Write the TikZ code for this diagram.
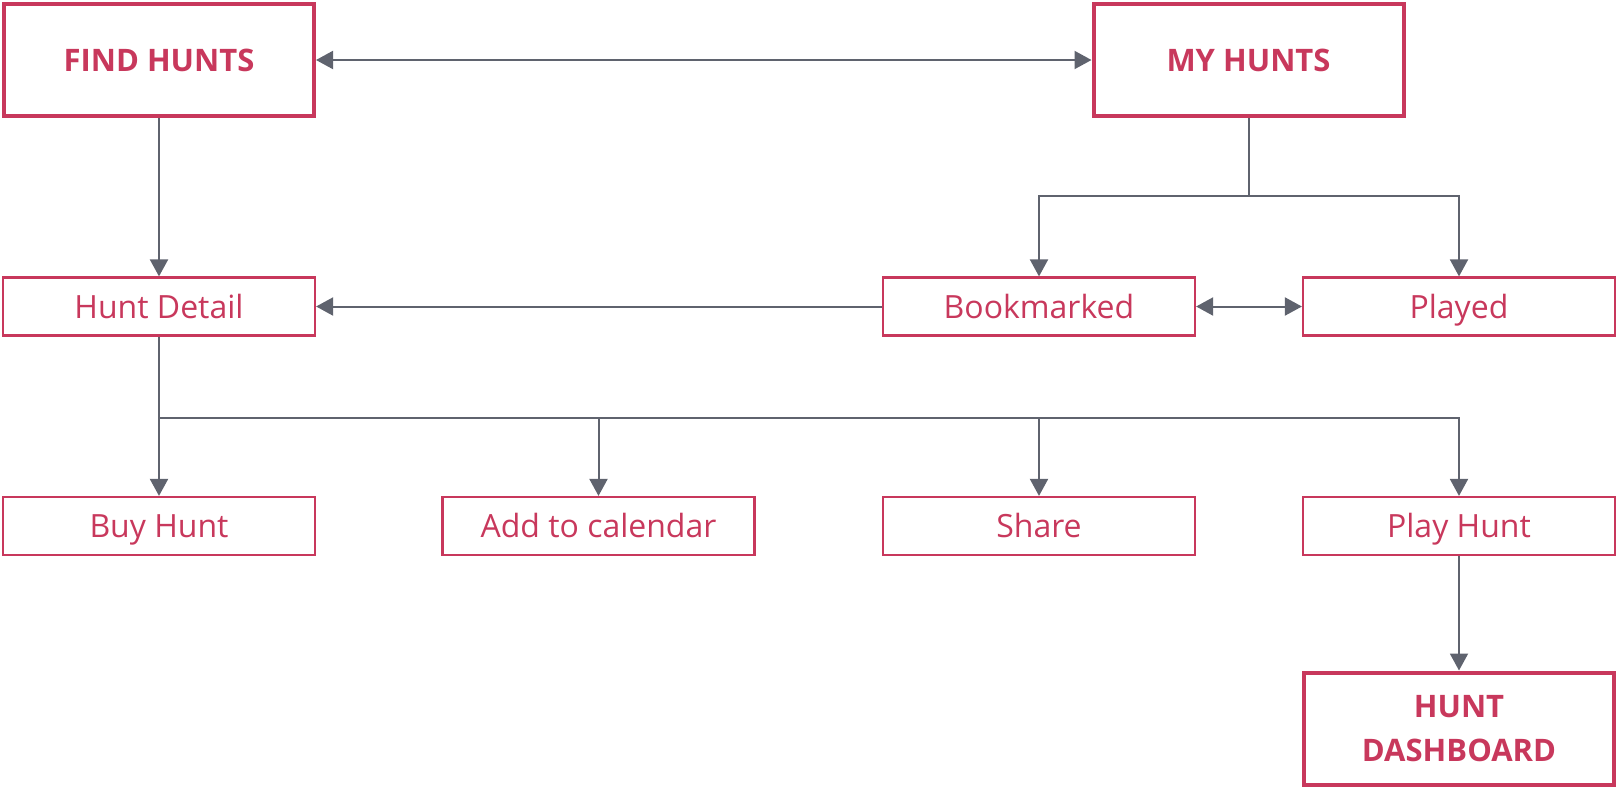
\documentclass[tikz,border=0pt]{standalone}
\usepackage{fontspec}
\setmainfont{Open Sans}
\usetikzlibrary{arrows.meta}
\definecolor{hred}{HTML}{C8385C}
\definecolor{hgray}{HTML}{5F636E}
\tikzset{
  x=1pt,y=-1pt,
  thinbox/.style={draw=hred,line width=2.2pt,text=hred,minimum width=312pt,minimum height=58pt,inner sep=0pt,text height=23pt,text depth=0pt,font=\fontsize{32}{38}\selectfont},
  thickbox/.style={draw=hred,line width=4pt,text=hred,minimum width=310pt,minimum height=112pt,inner sep=0pt,align=center,font=\bfseries\fontsize{31}{44}\selectfont},
  onel/.style={text height=22.5pt,text depth=0pt},
  conn/.style={draw=hgray,line width=2pt,-{Triangle[length=17pt,width=18pt]}},
  bconn/.style={draw=hgray,line width=2pt,{Triangle[length=17pt,width=18pt]}-{Triangle[length=17pt,width=18pt]}},
  plain/.style={draw=hgray,line width=2pt}
}
\begin{document}
\begin{tikzpicture}
\useasboundingbox (0,0) rectangle (1618,788);
\node[thickbox,onel] (find) at (159,60) {FIND HUNTS};
\node[thickbox,onel] (my) at (1248.5,60) {MY HUNTS};
\node[thinbox] (detail) at (159,306.5) {Hunt Detail};
\node[thinbox] (book) at (1039,306.5) {Bookmarked};
\node[thinbox] (played) at (1459,306.5) {Played};
\node[thinbox] (buy) at (159,526) {Buy Hunt};
\node[thinbox] (cal) at (598.5,526) {Add to calendar};
\node[thinbox] (share) at (1039,526) {Share};
\node[thinbox] (play) at (1459,526) {Play Hunt};
\node[thickbox] (dash) at (1459,728.5) {HUNT\\DASHBOARD};
\coordinate (myj) at (1248.5,196);
\coordinate (dj) at (159,418);
\draw[bconn] (find) -- (my);
\draw[conn] (find) -- (detail);
\draw[plain] (my) -- (myj);
\draw[conn] (myj) -| (book.north);
\draw[conn] (myj) -| (played.north);
\draw[conn] (book) -- (detail);
\draw[bconn] (book) -- (played);
\draw[conn] (detail) -- (buy);
\draw[conn] (dj) -| (cal.north);
\draw[conn] (dj) -| (share.north);
\draw[conn] (dj) -| (play.north);
\draw[conn] (play) -- (dash);
\end{tikzpicture}
\end{document}
